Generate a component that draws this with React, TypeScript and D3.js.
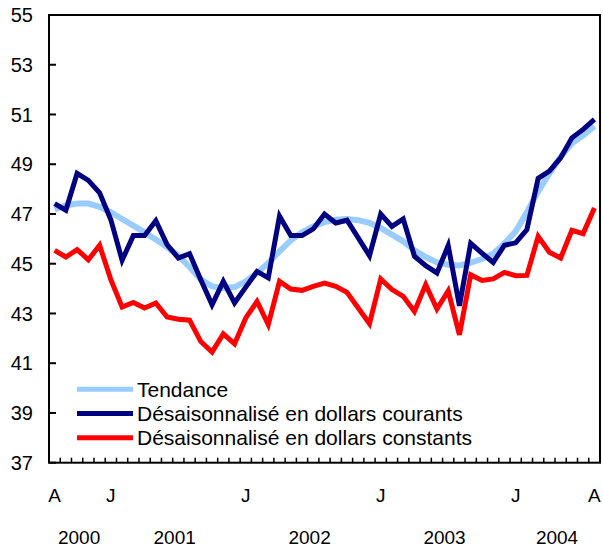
import React from "react";
import * as d3 from "d3";

// monthly points, Aug 2000 .. Aug 2004
const trend = [
  47.18, 47.34, 47.42, 47.42, 47.29, 47.07, 46.8, 46.53, 46.26, 45.97, 45.67, 45.32, 44.87,
  44.36, 44.09, 44.02, 44.06, 44.29, 44.63, 45.03, 45.5, 45.94, 46.26, 46.5, 46.67,
  46.77, 46.8, 46.75, 46.64, 46.44, 46.17, 45.9, 45.54, 45.27, 45.05, 44.96, 44.93,
  45.04, 45.19, 45.4, 45.81, 46.3, 47.07, 47.91, 48.63, 49.3, 49.84, 50.16, 50.53,
];
const courants = [
  47.42, 47.15, 48.63, 48.35, 47.85, 46.77, 45.14, 46.13, 46.13, 46.73, 45.77, 45.23, 45.4,
  44.36, 43.35, 44.29, 43.42, 44.06, 44.69, 44.43, 46.91, 46.13, 46.13, 46.4, 47.0,
  46.64, 46.75, 46.04, 45.32, 47.0, 46.5, 46.8, 45.3, 44.92, 44.63, 45.73, 43.31,
  45.82, 45.43, 45.05, 45.74, 45.84, 46.37, 48.43, 48.72, 49.26, 50.06, 50.4, 50.8,
];
const constants = [
  45.54, 45.27, 45.57, 45.16, 45.74, 44.36, 43.26, 43.44, 43.22, 43.42, 42.86, 42.77, 42.73,
  41.87, 41.45, 42.18, 41.78, 42.82, 43.48, 42.55, 44.29, 43.98, 43.93, 44.09, 44.22,
  44.09, 43.85, 43.22, 42.59, 44.39, 43.96, 43.69, 43.08, 44.16, 43.18, 43.91, 42.14,
  44.56, 44.33, 44.39, 44.65, 44.52, 44.53, 46.1, 45.46, 45.23, 46.34, 46.21, 47.24,
];
const yTicks = [37, 39, 41, 43, 45, 47, 49, 51, 53, 55];
const monthLabels = [
  { i: 0, t: "A" },
  { i: 5, t: "J" },
  { i: 17, t: "J" },
  { i: 29, t: "J" },
  { i: 41, t: "J" },
  { i: 48, t: "A" },
];
const years = [
  { t: "2000", from: 0, to: 5 },
  { t: "2001", from: 5, to: 17 },
  { t: "2002", from: 17, to: 29 },
  { t: "2003", from: 29, to: 41 },
  { t: "2004", from: 41, to: 49 },
];
const series = [
  { name: "Tendance", values: trend, color: "#99ccff", width: 6 },
  { name: "Désaisonnalisé en dollars courants", values: courants, color: "#000080", width: 5 },
  { name: "Désaisonnalisé en dollars constants", values: constants, color: "#ff0000", width: 5 },
];

const W = 603;
const H = 548;
const left = 49, right = 600, top = 15, bottom = 462.7;

export default function App() {
  const n = trend.length;
  // band edges: one slot per month, point in the middle
  const xEdge = d3.scaleLinear().domain([0, n]).range([left, right]);
  const x = (i: number) => xEdge(i + 0.5);
  const y = d3.scaleLinear().domain([37, 55]).range([bottom, top]);
  const line = d3.line<number>().x((_, i) => x(i)).y((d) => y(d));
  const font = "'Liberation Sans', Arial, Helvetica, sans-serif";

  return (
    <svg width={W} height={H} style={{ position: "absolute", left: 0, top: 0 }} fontFamily={font}>
      <rect x={0} y={0} width={W} height={H} fill="#fff" />
      {yTicks.map((t) => (
        <g key={t}>
          <line x1={left} x2={left + 7} y1={y(t)} y2={y(t)} stroke="#000" strokeWidth={2} />
          <text x={33} y={y(t)} dy="0.36em" textAnchor="end" fontSize={20}>{t}</text>
        </g>
      ))}
      {d3.range(1, n).map((i) => (
        <line key={i} x1={xEdge(i)} x2={xEdge(i)} y1={bottom} y2={bottom - 5} stroke="#000" strokeWidth={1.5} />
      ))}
      {series.map((s) => (
        <path key={s.name} d={line(s.values) || ""} fill="none" stroke={s.color} strokeWidth={s.width} />
      ))}
      <rect x={left} y={top} width={right - left} height={bottom - top} fill="none" stroke="#000" strokeWidth={2} />
      {monthLabels.map((m, k) => (
        <text key={k} x={x(m.i)} y={502} textAnchor="middle" fontSize={19}>{m.t}</text>
      ))}
      {years.map((yr) => (
        <text key={yr.t} x={(xEdge(yr.from) + xEdge(yr.to)) / 2 + 2} y={544} textAnchor="middle" fontSize={19}>{yr.t}</text>
      ))}
      {series.map((s, k) => {
        const ly = 389.3 + k * 24.2;
        return (
          <g key={s.name}>
            <line x1={77} x2={133} y1={ly} y2={ly} stroke={s.color} strokeWidth={5} />
            <text x={137} y={ly} dy="0.36em" fontSize={21}>{s.name}</text>
          </g>
        );
      })}
    </svg>
  );
}
